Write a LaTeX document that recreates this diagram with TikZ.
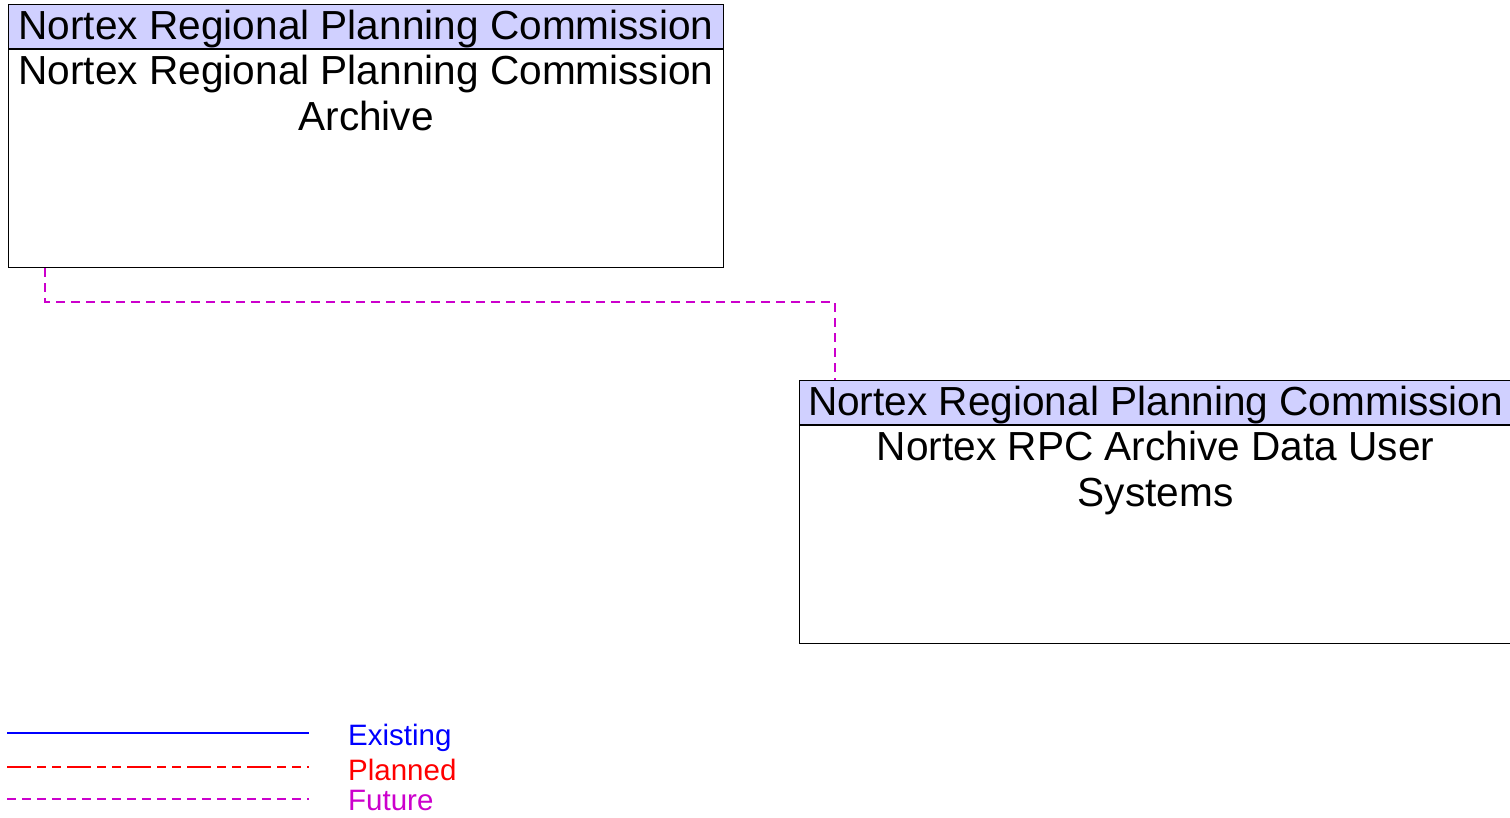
\documentclass[tikz,border=0pt]{standalone}
\usepackage{fontspec}
\setmainfont{Liberation Sans}
\usetikzlibrary{positioning}
\definecolor{hdrfill}{HTML}{D0D0FF}
\definecolor{futurepink}{HTML}{CC00CC}

\begin{document}
\begin{tikzpicture}[
  x=1pt, y=-1pt,
  node distance=0pt,
  head/.style={rectangle, draw, fill=hdrfill, line width=1.2pt, minimum width=#1, minimum height=44pt, inner sep=0pt, text height=29pt, text depth=4pt, font=\fontsize{40.6}{46}\selectfont},
  body/.style={rectangle, draw, line width=1.2pt, minimum width=#1, minimum height=218pt, inner sep=0pt},
  bodytext/.style={align=center, inner sep=6pt, font=\fontsize{40.6}{46}\selectfont},
  legtext/.style={anchor=base west, inner sep=0pt, font=\fontsize{29.5}{33}\selectfont},
  existing/.style={blue, line width=2.5pt},
  planned/.style={red, line width=1.4pt, dash pattern=on 23.5pt off 6.5pt on 8.5pt off 6.5pt on 8.5pt off 6.5pt},
  future/.style={futurepink, line width=1.2pt, dash pattern=on 9pt off 6pt},
]
\useasboundingbox (0,0) rectangle (1510,817);

\node[head=715pt, anchor=north west] (arcHead) at (8,4) {Nortex Regional Planning Commission};
\node[body=715pt, below=of arcHead] (arcBody) {};
\node[bodytext, below=of arcBody.north] (arcText) {Nortex Regional Planning Commission\\Archive};

\node[head=712pt, anchor=north west] (usrHead) at (799,380) {Nortex Regional Planning Commission};
\node[body=712pt, below=of usrHead] (usrBody) {};
\node[bodytext, below=of usrBody.north] (usrText) {Nortex RPC Archive Data User\\Systems};

\coordinate (bend) at (835,302);
\draw[future] ([xshift=37pt]arcBody.south west) |- (bend) -- ([xshift=36pt]usrHead.north west);

\coordinate (exA) at (7,733);
\coordinate (exB) at (309,733);
\coordinate (plA) at (7,767);
\coordinate (plB) at (309,767);
\coordinate (fuA) at (7,799);
\coordinate (fuB) at (309,799);
\draw[existing] (exA) -- (exB);
\draw[planned] (plA) -- (plB);
\draw[future] (fuA) -- (fuB);
\node[legtext, blue] (exText) at (348,745) {Existing};
\node[legtext, red] (plText) at (348,780) {Planned};
\node[legtext, futurepink] (fuText) at (348,810) {Future};
\end{tikzpicture}
\end{document}
